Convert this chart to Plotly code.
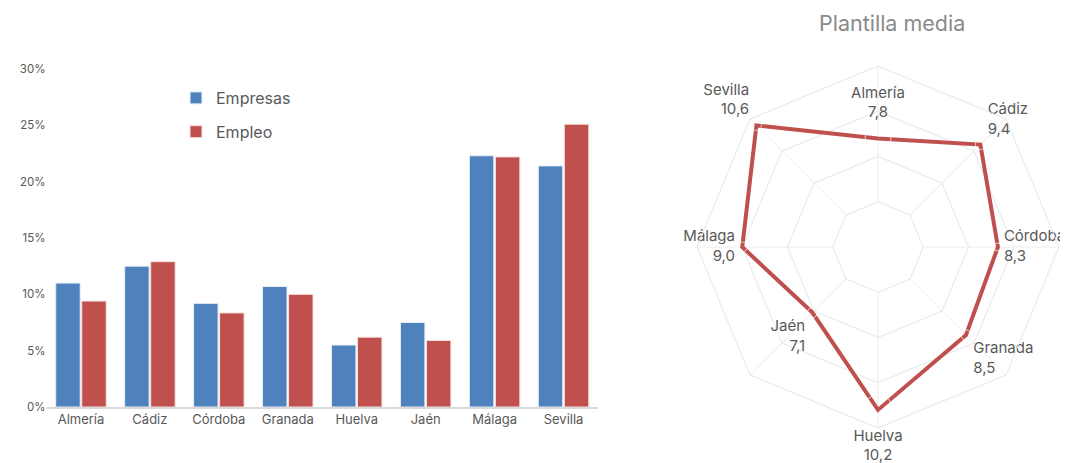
import plotly.graph_objects as go

provincias = ["Almería", "Cádiz", "Córdoba", "Granada", "Huelva", "Jaén", "Málaga", "Sevilla"]
empresas = [11.0, 12.5, 9.2, 10.7, 5.5, 7.5, 22.3, 21.4]
empleo = [9.4, 12.9, 8.35, 10.0, 6.2, 5.9, 22.2, 25.1]
plantilla = [7.8, 9.4, 8.3, 8.5, 10.2, 7.1, 9.0, 10.6]
y_ticks = [0, 5, 10, 15, 20, 25, 30]
y_ticktext = [f"{v}%" for v in y_ticks]

# label placement styles for the radar data labels
label_pos = ["top center", "top right", "middle right", "bottom right",
             "bottom center", "bottom left", "middle left", "top left"]
label_gap = [26, 10, 8, 10, 30, 10, 10, 10]

BLUE = "#4F81BD"
RED = "#C0504D"
TXT = "#595959"
FONT = "Inter"

# page body has an 8px margin; positions are compensated for it
W, H, OFF = 1068, 463, 8


def px(x):
    return (x - OFF) / W


def py(y):
    return 1 - (y - OFF) / H


fig = go.Figure()

fig.add_trace(go.Bar(x=provincias, y=empresas, name="Empresas", legendgroup="a",
                     marker=dict(color=BLUE, line=dict(color="#e8eef6", width=1)),
                     xaxis="x", yaxis="y"))
fig.add_trace(go.Bar(x=provincias, y=empleo, name="Empleo", legendgroup="b",
                     marker=dict(color=RED, line=dict(color="#f3e2e1", width=1)),
                     xaxis="x", yaxis="y"))

theta_closed = provincias + [provincias[0]]
r_closed = plantilla + [plantilla[0]]
fig.add_trace(go.Scatterpolar(r=r_closed, theta=theta_closed, mode="lines",
                              line=dict(color=RED, width=4), showlegend=False,
                              subplot="polar"))

labels = [f"{p}<br>{v:.1f}".replace(".", ",") for p, v in zip(provincias, plantilla)]
fig.add_trace(go.Scatterpolar(r=plantilla, theta=provincias,
                              mode="markers+text", text=labels, textposition=label_pos,
                              marker=dict(size=label_gap, color="rgba(0,0,0,0)"),
                              textfont=dict(size=15, color=TXT, family=FONT),
                              showlegend=False, cliponaxis=False, subplot="polar"))

cx, cy, R = 878, 247, 181

fig.update_layout(
    template="none",
    width=W, height=H,
    margin=dict(l=0, r=0, t=0, b=0, autoexpand=False),
    paper_bgcolor="white", plot_bgcolor="white",
    font=dict(family=FONT, color=TXT),
    barmode="group", bargap=0.245, bargroupgap=0.06,
    xaxis=dict(domain=[px(46.5), px(598)], showgrid=False, showline=True,
               linecolor="#d9d9d9", linewidth=1.5, ticks="", automargin=False,
               tickfont=dict(size=13, color=TXT), anchor="y"),
    yaxis=dict(domain=[py(407), py(69)], range=[0, 30], tickvals=y_ticks,
               ticktext=y_ticktext, showgrid=False, zeroline=False, showline=False,
               ticks="", automargin=False,
               tickfont=dict(size=11.5, color=TXT), anchor="x"),
    legend=dict(x=px(176), y=py(81), xanchor="left", yanchor="top",
                font=dict(size=16, color=TXT), bgcolor="rgba(0,0,0,0)",
                itemwidth=30, tracegroupgap=10),
    polar=dict(
        domain=dict(x=[px(cx - R), px(cx + R)], y=[py(cy + R), py(cy - R)]),
        bgcolor="white",
        gridshape="linear",
        hole=0.25,
        radialaxis=dict(range=[5, 11], dtick=2, tick0=5, showticklabels=False, ticks="",
                        showline=False, gridcolor="#e6e6e6", gridwidth=1),
        angularaxis=dict(direction="clockwise", rotation=90, showticklabels=False,
                         ticks="", showline=True, linecolor="#e6e6e6",
                         gridcolor="#ececec", gridwidth=1),
    ),
    annotations=[dict(text="Plantilla media", x=px(892), y=py(23),
                      xref="paper", yref="paper", showarrow=False,
                      xanchor="center", yanchor="middle",
                      font=dict(size=21.5, color="#8a8a8a", family=FONT))],
)

fig.write_html("out.html")
